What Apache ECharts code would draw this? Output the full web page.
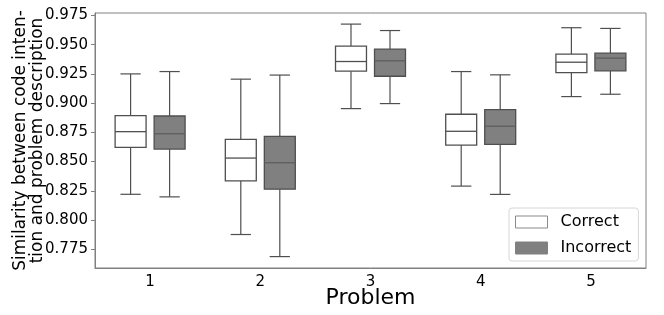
<!DOCTYPE html>
<html><head><meta charset="utf-8">
<script src="https://cdn.jsdelivr.net/npm/echarts@6/dist/echarts.min.js"></script>
<style>html,body{margin:0;padding:0;background:#fff}#c{width:664px;height:315px}</style>
</head><body><div id="c"></div>
<script>
const categories = ['1', '2', '3', '4', '5'];
const yTickStep = 0.025;
// [low whisker, Q1, median, Q3, high whisker]
const correctStats = [
  [0.8220, 0.8622, 0.8756, 0.8893, 0.9250],
  [0.7876, 0.8335, 0.8530, 0.8690, 0.9205],
  [0.8953, 0.9273, 0.9356, 0.9488, 0.9676],
  [0.8290, 0.8641, 0.8759, 0.8905, 0.9270],
  [0.9056, 0.9261, 0.9350, 0.9419, 0.9645]
];
const incorrectStats = [
  [0.8198, 0.8607, 0.8738, 0.8890, 0.9270],
  [0.7687, 0.8264, 0.8490, 0.8716, 0.9240],
  [0.8996, 0.9230, 0.9362, 0.9462, 0.9621],
  [0.8219, 0.8647, 0.8802, 0.8944, 0.9242],
  [0.9076, 0.9276, 0.9385, 0.9428, 0.9639]
];

const LINE = '#4f4f4f';
function makeRender(offsetFrac, fill, medianColor) {
  return function (params, api) {
    const ci = api.value(0);
    const band = api.size([1, 0])[0];
    const pLow = api.coord([ci, api.value(1)]);
    const pQ1 = api.coord([ci, api.value(2)]);
    const pMed = api.coord([ci, api.value(3)]);
    const pQ3 = api.coord([ci, api.value(4)]);
    const pHigh = api.coord([ci, api.value(5)]);
    const cx = pMed[0] + offsetFrac * band;
    const hw = 0.1405 * band;
    const cw = 0.092 * band;
    const ls = { stroke: LINE, lineWidth: 1.2 };
    return {
      type: 'group',
      children: [
        { type: 'line', shape: { x1: cx, y1: pHigh[1], x2: cx, y2: pQ3[1] }, style: ls },
        { type: 'line', shape: { x1: cx, y1: pQ1[1], x2: cx, y2: pLow[1] }, style: ls },
        { type: 'line', shape: { x1: cx - cw, y1: pHigh[1], x2: cx + cw, y2: pHigh[1] }, style: ls },
        { type: 'line', shape: { x1: cx - cw, y1: pLow[1], x2: cx + cw, y2: pLow[1] }, style: ls },
        { type: 'rect', shape: { x: cx - hw, y: pQ3[1], width: 2 * hw, height: pQ1[1] - pQ3[1] },
          style: { fill: fill, stroke: LINE, lineWidth: 1.3 } },
        { type: 'line', shape: { x1: cx - hw, y1: pMed[1], x2: cx + hw, y2: pMed[1] },
          style: { stroke: medianColor, lineWidth: 1.3 } }
      ]
    };
  };
}
function toData(stats) {
  return stats.map((s, i) => [i].concat(s));
}

const chart = echarts.init(document.getElementById('c'), null, { renderer: 'canvas' });
chart.setOption({
  animation: false,
  textStyle: { fontFamily: 'DejaVu Sans' },
  grid: { left: 95, right: 18, top: 13, bottom: 47, containLabel: false, outerBoundsMode: 'none',
    show: true, borderColor: '#808080', borderWidth: 1 },
  legend: {
    left: 509, top: 208, orient: 'vertical',
    itemWidth: 32, itemHeight: 12, itemGap: 10,
    padding: [6, 7, 5, 6],
    backgroundColor: '#fff', borderColor: '#d6d6d6', borderWidth: 1, borderRadius: 3,
    textStyle: { fontSize: 16, color: '#000', fontFamily: 'DejaVu Sans', padding: [0, 0, 0, 8] },
    data: [
      { name: 'Correct', icon: 'rect', itemStyle: { color: '#fff', borderColor: '#8a8a8a', borderWidth: 1 } },
      { name: 'Incorrect', icon: 'rect', itemStyle: { color: '#808080', borderColor: '#808080', borderWidth: 1 } }
    ]
  },
  xAxis: {
    type: 'category', data: categories, boundaryGap: true,
    name: 'Problem', nameLocation: 'middle', nameGap: 19, nameMoveOverlap: false,
    nameTextStyle: { fontSize: 22, color: '#000', fontFamily: 'DejaVu Sans' },
    axisLine: { lineStyle: { color: '#808080' } },
    axisTick: { alignWithLabel: true, length: 4, lineStyle: { color: '#808080' } },
    axisLabel: { fontSize: 15, color: '#000', margin: 7 },
    splitLine: { show: false }
  },
  yAxis: {
    type: 'value', min: 0.75895, max: 0.9771,
    minInterval: yTickStep, maxInterval: yTickStep,
    name: 'Similarity between code inten-\ntion and problem description',
    nameLocation: 'middle', nameGap: 49, nameMoveOverlap: false,
    nameTextStyle: { fontSize: 17, color: '#000', fontFamily: 'DejaVu Sans', lineHeight: 17 },
    axisLine: { show: true, lineStyle: { color: '#808080' } },
    axisTick: { show: true, length: 4, lineStyle: { color: '#808080' } },
    axisLabel: { fontSize: 15, color: '#000', margin: 7, showMinLabel: false, showMaxLabel: false,
      formatter: v => v.toFixed(3) },
    splitLine: { show: false }
  },
  series: [
    { name: 'Correct', type: 'custom', renderItem: makeRender(-0.177, '#ffffff', LINE),
      encode: { x: 0, y: [1, 2, 3, 4, 5] }, data: toData(correctStats),
      itemStyle: { color: '#fff' } },
    { name: 'Incorrect', type: 'custom', renderItem: makeRender(0.177, '#808080', '#5e5e5e'),
      encode: { x: 0, y: [1, 2, 3, 4, 5] }, data: toData(incorrectStats),
      itemStyle: { color: '#808080' } }
  ]
});
</script></body></html>
